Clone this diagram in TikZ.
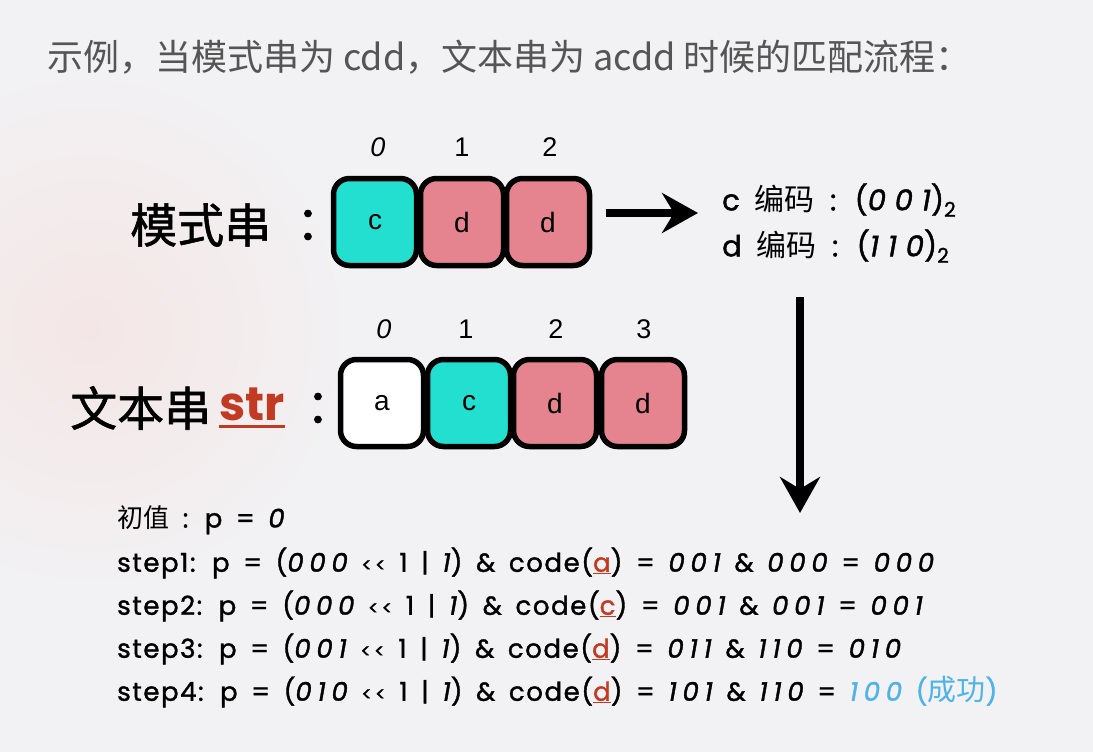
\documentclass[tikz,border=0pt]{standalone}
\usepackage{fontspec}
\setmainfont{Poppins}
\newfontfamily\cjk{Noto Sans CJK SC}
\newfontfamily\cjkb[FakeBold=1.2]{Noto Sans CJK SC}
\newfontfamily\hel{Liberation Sans}
\newfontfamily\stepf[FakeBold=1.4,LetterSpace=6,WordSpace=1.6]{Poppins}
\usetikzlibrary{arrows.meta}
\definecolor{bg}{HTML}{F2F2F4}
\definecolor{bgpink}{HTML}{F4E6E6}
\definecolor{tealc}{HTML}{22DFCF}
\definecolor{pinkc}{HTML}{E5838F}
\definecolor{redt}{HTML}{C23A22}
\definecolor{bluet}{HTML}{4FB3EA}
\definecolor{titlegray}{HTML}{555555}
\newcommand\rl[1]{\textcolor{redt}{\underline{#1}}}
\newcommand\bn[1]{{\itshape\addfontfeature{LetterSpace=22}#1}}
\newcommand\bnw[1]{{\itshape\addfontfeature{LetterSpace=30}#1}}
\newcommand\shl{{\fontsize{19}{19}\selectfont\mbox{<}\,\mbox{<}}}
\begin{document}
\begin{tikzpicture}[x=1pt,y=-1pt,
 cell/.style={draw=black, line width=5.5pt, rounded corners=16pt, minimum width=83pt, minimum height=87pt, inner sep=0pt, font=\hel\fontsize{28}{28}\selectfont},
 idx/.style={font=\hel\fontsize{27}{27}\selectfont},
 biglab/.style={font=\cjkb\fontsize{47}{47}\selectfont, anchor=west, inner sep=0pt},
 codet/.style={font=\stepf\fontsize{29}{29}\selectfont, anchor=west, inner sep=0pt},
 stepl/.style={font=\stepf\fontsize{26}{26}\selectfont, anchor=west, inner sep=0pt},
 bigarrow/.style={line width=8pt, -{Stealth[length=36pt,width=40pt,inset=12pt]}}
]
\useasboundingbox (0,0) rectangle (1093,752);
\fill[bg] (0,0) rectangle (1093,752);
\shade[inner color=bgpink, outer color=bg] (90,330) circle (280pt);

\node[anchor=west, inner sep=0pt, text=titlegray, font=\cjk\fontsize{36}{36}\selectfont] (title) at (47,57) {示例，当模式串为 cdd，文本串为 acdd 时候的匹配流程：};

% pattern
\node[biglab] (plab) at (130,225) {模式串};
\node[biglab] (pcol) at (296,225) {：};
\node[cell, fill=tealc] (p0) at (375,222) {c};
\node[cell, fill=pinkc] (p1) at (462,222) {d};
\node[cell, fill=pinkc] (p2) at (548,222) {d};
\node[idx] (pi0) at (378,147) {\itshape 0};
\node[idx] (pi1) at (462,147) {1};
\node[idx] (pi2) at (550,147) {2};

% codes
\node[codet] (cc) at (722,200) {c {\cjk\fontsize{30}{30}\selectfont 编码} : (\bnw{001})\textsubscript{2}};
\node[codet] (cd) at (722,246) {d {\cjk\fontsize{30}{30}\selectfont 编码} : (\bnw{110})\textsubscript{2}};
\coordinate (ra1) at (606,213);
\coordinate (ra2) at (698,213);
\draw[bigarrow] (ra1) -- (ra2);

% text
\node[biglab] (tlab) at (70,408) {文本串};
\node[anchor=west, inner sep=0pt, text=redt, font=\fontsize{47}{47}\bfseries\selectfont] (str) at (219,404) {str};
\node[biglab] (tcol) at (306,408) {：};
\draw[redt, line width=3pt] ([yshift=-6pt]str.south west) -- ([yshift=-6pt]str.south east);
\node[cell, fill=white] (t0) at (382,403) {a};
\node[cell, fill=tealc] (t1) at (469,403) {c};
\node[cell, fill=pinkc] (t2) at (555,403) {d};
\node[cell, fill=pinkc] (t3) at (643,403) {d};
\node[idx] (ti0) at (384,329) {\itshape 0};
\node[idx] (ti1) at (466,329) {1};
\node[idx] (ti2) at (556,329) {2};
\node[idx] (ti3) at (644,329) {3};

\coordinate (da1) at (800,297);
\coordinate (da2) at (800,513);
\draw[bigarrow] (da1) -- (da2);

% steps
\node[stepl] (s0) at (117,520) {{\cjk 初值} : p = \bn{0}};
\node[stepl] (s1) at (117,563) {step1: p = (\bn{000} \shl{} 1 | \bn{1}) \& code(\rl{a}) = \bn{001} \& \bn{000} = \bn{000}};
\node[stepl] (s2) at (117,606) {step2: p = (\bn{000} \shl{} 1 | \bn{1}) \& code(\rl{c}) = \bn{001} \& \bn{001} = \bn{001}};
\node[stepl] (s3) at (117,649) {step3: p = (\bn{001} \shl{} 1 | \bn{1}) \& code(\rl{d}) = \bn{011} \& \bn{110} = \bn{010}};
\node[stepl] (s4) at (117,692) {step4: p = (\bn{010} \shl{} 1 | \bn{1}) \& code(\rl{d}) = \bn{101} \& \bn{110} = \textcolor{bluet}{\bn{100} ({\cjk\fontsize{29}{29}\selectfont 成功})}};
\end{tikzpicture}
\end{document}
